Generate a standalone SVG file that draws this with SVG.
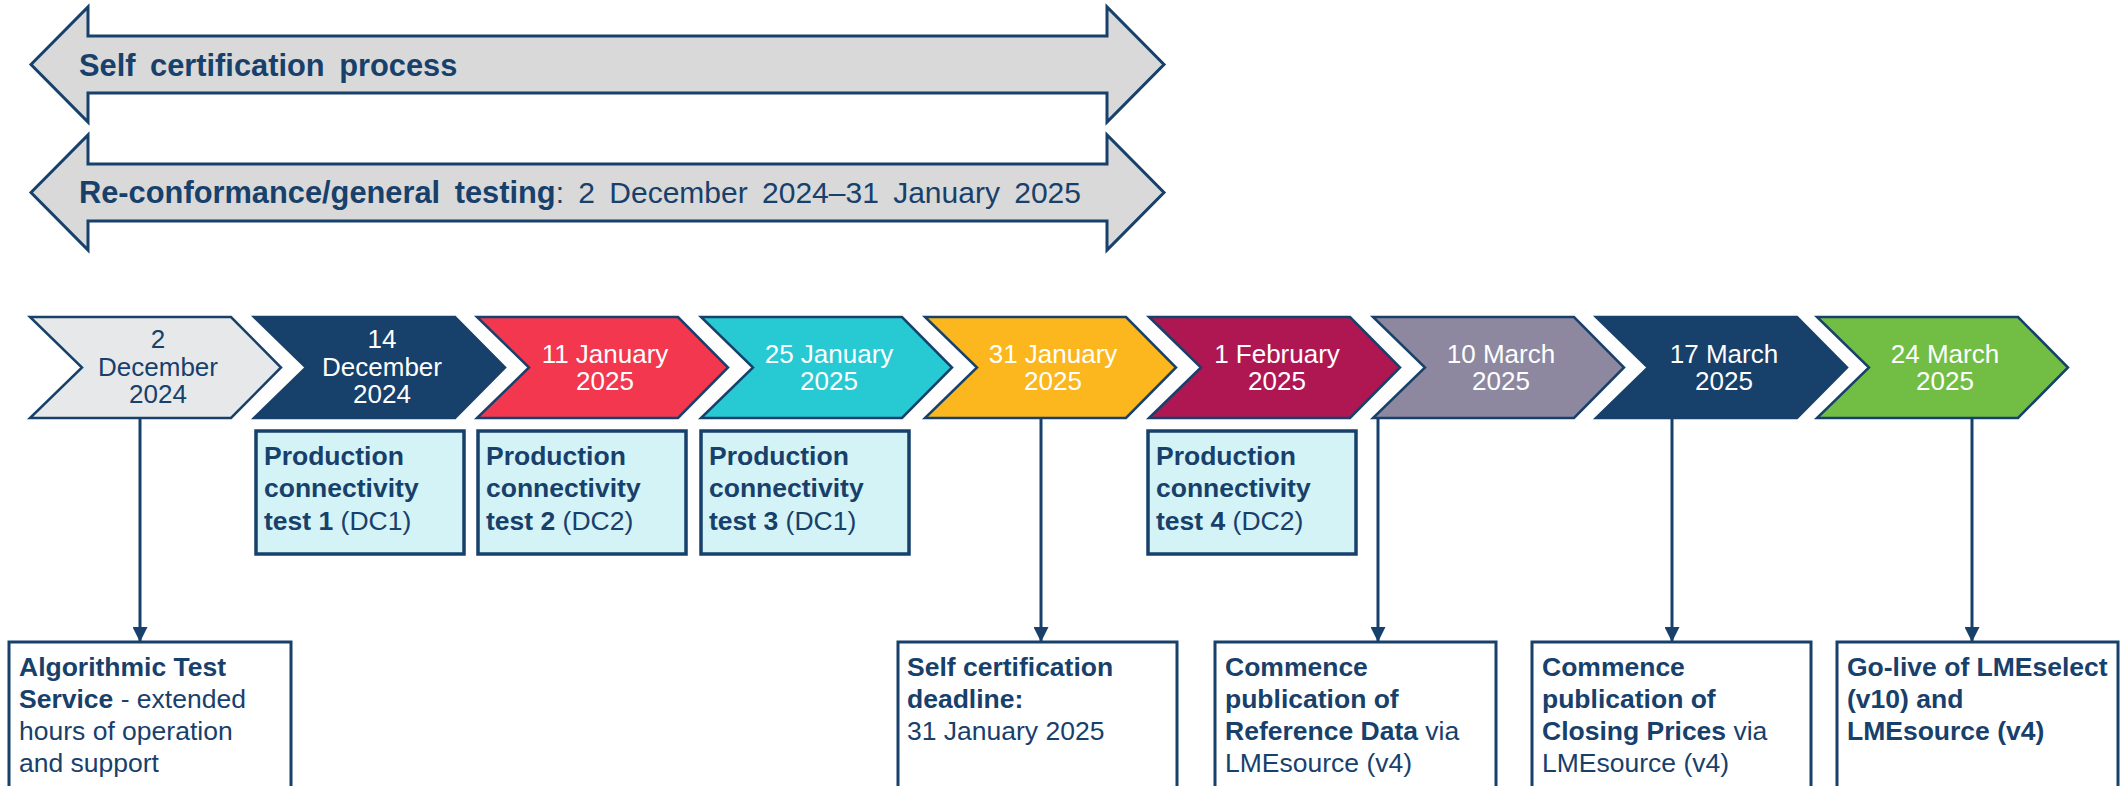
<svg xmlns="http://www.w3.org/2000/svg" width="2127" height="786" viewBox="0 0 2127 786">
  <defs>
    <style>
      text { font-family: "Liberation Sans", Arial, sans-serif; fill: #17406B; }
      .b { font-weight: bold; }
      .banner { fill: #D9D9D9; stroke: #17406B; stroke-width: 3; stroke-linejoin: miter; }
      .banner-text { font-size: 30px; word-spacing: 6px; }
      .banner-text .b, .banner-text.b { font-size: 30.8px; }
      .chev { stroke: #17406B; stroke-width: 2.5; stroke-linejoin: miter; }
      .chev-text { font-size: 26px; text-anchor: middle; fill: #FFFFFF; }
      .chev-text.dark { fill: #17406B; }
      .test { fill: #D4F3F6; stroke: #17406B; stroke-width: 3.5; }
      .event { fill: #FFFFFF; stroke: #17406B; stroke-width: 3; }
      .box-text { font-size: 26.5px; }
      .link { stroke: #17406B; stroke-width: 3; fill: none; marker-end: url(#ah); }
    </style>
    <marker id="ah" markerUnits="userSpaceOnUse" markerWidth="15" markerHeight="15" refX="14" refY="7.5" orient="auto">
      <path d="M0,0 L15,7.5 L0,15 Z" fill="#17406B"/>
    </marker>
  </defs>

  <rect width="2127" height="786" fill="#FFFFFF"/>

  <!-- Double-headed period banners -->
  <g id="banner-self-cert">
    <path class="banner" d="M31,64.5 L88,7 V36 H1107 V7 L1164,64.5 L1107,122 V93 H88 V122 Z"/>
    <text class="banner-text b" x="79" y="76">Self certification process</text>
  </g>
  <g id="banner-testing">
    <path class="banner" d="M31,192.5 L88,135 V164 H1107 V135 L1164,192.5 L1107,250 V221 H88 V250 Z"/>
    <text class="banner-text" x="79" y="203"><tspan class="b">Re-conformance/general testing</tspan>: 2 December 2024–31 January 2025</text>
  </g>

  <!-- Timeline chevrons -->
  <g id="d-2024-12-02">
    <path class="chev" fill="#E7E8EA" d="M30,317 H231 L281,367.5 L231,418 H30 L82,367.5 Z"/>
    <text class="chev-text dark" x="158"><tspan x="158" y="348">2</tspan><tspan x="158" y="376">December</tspan><tspan x="158" y="403">2024</tspan></text>
  </g>
  <g id="d-2024-12-14">
    <path class="chev" fill="#17406B" d="M254,317 H455 L505,367.5 L455,418 H254 L306,367.5 Z"/>
    <text class="chev-text" x="382"><tspan x="382" y="348">14</tspan><tspan x="382" y="376">December</tspan><tspan x="382" y="403">2024</tspan></text>
  </g>
  <g id="d-2025-01-11">
    <path class="chev" fill="#F2374F" d="M477,317 H678 L728,367.5 L678,418 H477 L529,367.5 Z"/>
    <text class="chev-text" x="605"><tspan x="605" y="363">11 January</tspan><tspan x="605" y="390">2025</tspan></text>
  </g>
  <g id="d-2025-01-25">
    <path class="chev" fill="#27C9D3" d="M701,317 H902 L952,367.5 L902,418 H701 L753,367.5 Z"/>
    <text class="chev-text" x="829"><tspan x="829" y="363">25 January</tspan><tspan x="829" y="390">2025</tspan></text>
  </g>
  <g id="d-2025-01-31">
    <path class="chev" fill="#FCB71E" d="M925,317 H1126 L1176,367.5 L1126,418 H925 L977,367.5 Z"/>
    <text class="chev-text" x="1053"><tspan x="1053" y="363">31 January</tspan><tspan x="1053" y="390">2025</tspan></text>
  </g>
  <g id="d-2025-02-01">
    <path class="chev" fill="#AF1753" d="M1149,317 H1350 L1400,367.5 L1350,418 H1149 L1201,367.5 Z"/>
    <text class="chev-text" x="1277"><tspan x="1277" y="363">1 February</tspan><tspan x="1277" y="390">2025</tspan></text>
  </g>
  <g id="d-2025-03-10">
    <path class="chev" fill="#8D889F" d="M1373,317 H1574 L1624,367.5 L1574,418 H1373 L1425,367.5 Z"/>
    <text class="chev-text" x="1501"><tspan x="1501" y="363">10 March</tspan><tspan x="1501" y="390">2025</tspan></text>
  </g>
  <g id="d-2025-03-17">
    <path class="chev" fill="#17406B" d="M1596,317 H1797 L1847,367.5 L1797,418 H1596 L1648,367.5 Z"/>
    <text class="chev-text" x="1724"><tspan x="1724" y="363">17 March</tspan><tspan x="1724" y="390">2025</tspan></text>
  </g>
  <g id="d-2025-03-24">
    <path class="chev" fill="#72BE44" d="M1817,317 H2018 L2068,367.5 L2018,418 H1817 L1869,367.5 Z"/>
    <text class="chev-text" x="1945"><tspan x="1945" y="363">24 March</tspan><tspan x="1945" y="390">2025</tspan></text>
  </g>

  <!-- Production connectivity tests -->
  <g id="pct-1">
    <rect class="test" x="256" y="431" width="208" height="123"/>
    <text class="box-text"><tspan class="b" x="264" y="465">Production</tspan><tspan class="b" x="264" y="497">connectivity</tspan><tspan x="264" y="530"><tspan class="b">test 1</tspan> (DC1)</tspan></text>
  </g>
  <g id="pct-2">
    <rect class="test" x="478" y="431" width="208" height="123"/>
    <text class="box-text"><tspan class="b" x="486" y="465">Production</tspan><tspan class="b" x="486" y="497">connectivity</tspan><tspan x="486" y="530"><tspan class="b">test 2</tspan> (DC2)</tspan></text>
  </g>
  <g id="pct-3">
    <rect class="test" x="701" y="431" width="208" height="123"/>
    <text class="box-text"><tspan class="b" x="709" y="465">Production</tspan><tspan class="b" x="709" y="497">connectivity</tspan><tspan x="709" y="530"><tspan class="b">test 3</tspan> (DC1)</tspan></text>
  </g>
  <g id="pct-4">
    <rect class="test" x="1148" y="431" width="208" height="123"/>
    <text class="box-text"><tspan class="b" x="1156" y="465">Production</tspan><tspan class="b" x="1156" y="497">connectivity</tspan><tspan x="1156" y="530"><tspan class="b">test 4</tspan> (DC2)</tspan></text>
  </g>

  <!-- Connectors from dates to events -->
  <g id="connectors">
    <line class="link" x1="140" y1="418" x2="140" y2="641"/>
    <line class="link" x1="1041" y1="418" x2="1041" y2="641"/>
    <line class="link" x1="1378" y1="418" x2="1378" y2="641"/>
    <line class="link" x1="1672" y1="418" x2="1672" y2="641"/>
    <line class="link" x1="1972" y1="418" x2="1972" y2="641"/>
  </g>

  <!-- Event boxes -->
  <g id="ev-algo-test">
    <rect class="event" x="9" y="642" width="282" height="160"/>
    <text class="box-text"><tspan class="b" x="19" y="676">Algorithmic Test</tspan><tspan x="19" y="708"><tspan class="b">Service</tspan> - extended</tspan><tspan x="19" y="740">hours of operation</tspan><tspan x="19" y="772">and support</tspan></text>
  </g>
  <g id="ev-self-cert">
    <rect class="event" x="898" y="642" width="279" height="160"/>
    <text class="box-text"><tspan class="b" x="907" y="676">Self certification</tspan><tspan class="b" x="907" y="708">deadline:</tspan><tspan x="907" y="740">31 January 2025</tspan></text>
  </g>
  <g id="ev-ref-data">
    <rect class="event" x="1215" y="642" width="281" height="160"/>
    <text class="box-text"><tspan class="b" x="1225" y="676">Commence</tspan><tspan class="b" x="1225" y="708">publication of</tspan><tspan x="1225" y="740"><tspan class="b">Reference Data</tspan> via</tspan><tspan x="1225" y="772">LMEsource (v4)</tspan></text>
  </g>
  <g id="ev-closing-prices">
    <rect class="event" x="1532" y="642" width="279" height="160"/>
    <text class="box-text"><tspan class="b" x="1542" y="676">Commence</tspan><tspan class="b" x="1542" y="708">publication of</tspan><tspan x="1542" y="740"><tspan class="b">Closing Prices</tspan> via</tspan><tspan x="1542" y="772">LMEsource (v4)</tspan></text>
  </g>
  <g id="ev-go-live">
    <rect class="event" x="1837" y="642" width="281" height="160"/>
    <text class="box-text b"><tspan x="1847" y="676">Go-live of LMEselect</tspan><tspan x="1847" y="708">(v10) and</tspan><tspan x="1847" y="740">LMEsource (v4)</tspan></text>
  </g>
</svg>
